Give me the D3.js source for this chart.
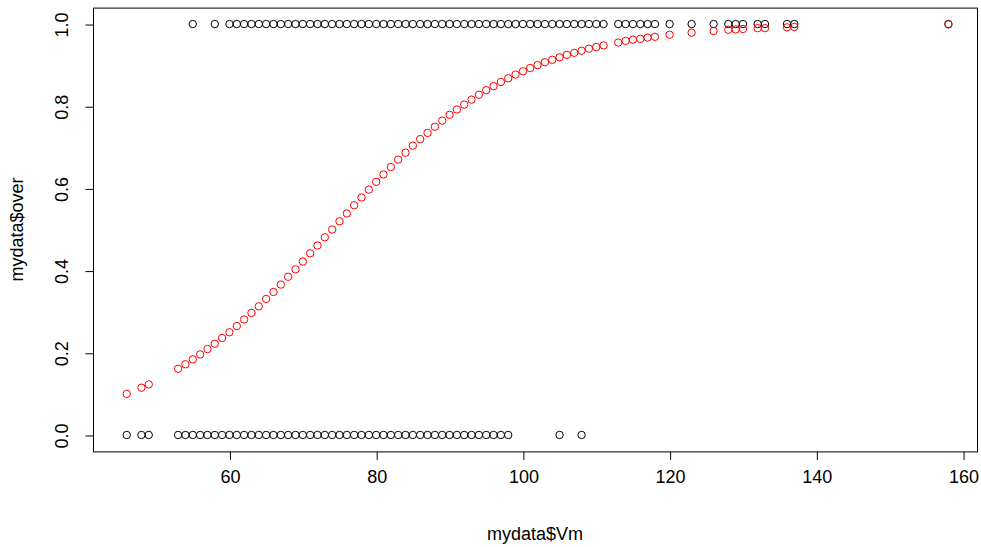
<!DOCTYPE html>
<html>
<head>
<meta charset="utf-8">
<script src="https://cdn.jsdelivr.net/npm/d3@7"></script>
<style>
  html, body { margin: 0; padding: 0; background: #fff; }
  svg { display: block; }
  text { font-family: "Liberation Sans", Arial, sans-serif; fill: #000; }
</style>
</head>
<body>
<svg id="chart" width="981" height="547"></svg>
<script>
// Observed Vm values where over == 1
const vmOver1 = [55, 58, 60, 61, 62, 63, 64, 65, 66, 67, 68, 69, 70, 71, 72, 73, 74, 75, 76, 77, 78, 79,
  80, 81, 82, 83, 84, 85, 86, 87, 88, 89, 90, 91, 92, 93, 94, 95, 96, 97, 98, 99, 100, 101, 102, 103,
  104, 105, 106, 107, 108, 109, 110, 111, 113, 114, 115, 116, 117, 118, 120, 123, 126, 128, 129, 130,
  132, 133, 136, 137, 158];
// Observed Vm values where over == 0
const vmOver0 = [46, 48, 49, 53, 54, 55, 56, 57, 58, 59, 60, 61, 62, 63, 64, 65, 66, 67, 68, 69, 70, 71,
  72, 73, 74, 75, 76, 77, 78, 79, 80, 81, 82, 83, 84, 85, 86, 87, 88, 89, 90, 91, 92, 93, 94, 95, 96,
  97, 98, 105, 108];
// Fitted probabilities (red points)
const fitVm = [46, 48, 49, 53, 54, 55, 56, 57, 58, 59, 60, 61, 62, 63, 64, 65, 66, 67, 68, 69, 70, 71,
  72, 73, 74, 75, 76, 77, 78, 79, 80, 81, 82, 83, 84, 85, 86, 87, 88, 89, 90, 91, 92, 93, 94, 95, 96,
  97, 98, 99, 100, 101, 102, 103, 104, 105, 106, 107, 108, 109, 110, 111, 113, 114, 115, 116, 117, 118,
  120, 123, 126, 128, 129, 130, 132, 133, 136, 137, 158];
const fitP = [0.100, 0.115, 0.123, 0.161, 0.172, 0.184, 0.196, 0.209, 0.222, 0.236, 0.250, 0.265, 0.281,
  0.297, 0.313, 0.331, 0.348, 0.366, 0.385, 0.403, 0.422, 0.442, 0.461, 0.481, 0.500, 0.520, 0.539,
  0.559, 0.578, 0.597, 0.616, 0.634, 0.652, 0.670, 0.687, 0.704, 0.720, 0.735, 0.750, 0.765, 0.779,
  0.792, 0.804, 0.816, 0.828, 0.839, 0.849, 0.859, 0.868, 0.877, 0.885, 0.893, 0.900, 0.907, 0.913,
  0.919, 0.925, 0.930, 0.935, 0.940, 0.944, 0.948, 0.955, 0.959, 0.962, 0.964, 0.967, 0.969, 0.974,
  0.979, 0.983, 0.986, 0.987, 0.988, 0.990, 0.990, 0.992, 0.993, 0.999];
const xTicks = [60, 80, 100, 120, 140, 160];
const yTicks = [0.0, 0.2, 0.4, 0.6, 0.8, 1.0];
const xLabel = "mydata$Vm";
const yLabel = "mydata$over";

const box = { left: 93, right: 977, top: 7.6, bottom: 451.4 };
const x = d3.scaleLinear().domain([41.4, 161.9]).range([box.left, box.right]);
const y = d3.scaleLinear().domain([-0.04, 1.04]).range([box.bottom, box.top]);

const svg = d3.select("#chart");
const fs = 18;
const ff = '"Liberation Sans", Arial, sans-serif';

// box
svg.append("rect")
  .attr("x", box.left + 0.5).attr("y", box.top + 0.5)
  .attr("width", box.right - box.left).attr("height", box.bottom - box.top)
  .attr("fill", "none").attr("stroke", "#000").attr("stroke-width", 1);

// x axis
const xAxis = d3.axisBottom(x).tickValues(xTicks).tickSize(8).tickPadding(10)
  .tickFormat(d3.format("d"));
const gx = svg.append("g").attr("transform", `translate(0.5,${box.bottom + 0.5})`).call(xAxis);
gx.select(".domain").remove();
gx.selectAll("line").attr("stroke", "#000");
gx.selectAll("text").style("font-size", fs + "px").style("font-family", ff);

// y axis
const yAxis = d3.axisLeft(y).tickValues(yTicks).tickSize(8).tickFormat(d3.format(".1f"));
const gy = svg.append("g").attr("transform", `translate(${box.left + 0.5},0.5)`).call(yAxis);
gy.select(".domain").remove();
gy.selectAll("line").attr("stroke", "#000");
gy.selectAll("text")
  .attr("x", null).attr("dy", null)
  .attr("text-anchor", "middle")
  .attr("transform", "translate(-26,0) rotate(-90)")
  .style("font-size", fs + "px").style("font-family", ff);

// axis titles
svg.append("text").attr("x", (box.left + box.right) / 2).attr("y", 540)
  .attr("text-anchor", "middle").style("font-size", fs + "px").text(xLabel);
svg.append("text")
  .attr("transform", `translate(23,${(box.top + box.bottom) / 2}) rotate(-90)`)
  .attr("text-anchor", "middle").style("font-size", fs + "px").text(yLabel);

const r = 3.7;
// observed points
svg.append("g").selectAll("circle").data(vmOver0).join("circle")
  .attr("cx", d => x(d)).attr("cy", y(0)).attr("r", r)
  .attr("fill", "none").attr("stroke", "#000").attr("stroke-width", 1);
svg.append("g").selectAll("circle").data(vmOver1).join("circle")
  .attr("cx", d => x(d)).attr("cy", y(1)).attr("r", r)
  .attr("fill", "none").attr("stroke", "#000").attr("stroke-width", 1);
// fitted points
svg.append("g").selectAll("circle").data(fitVm.map((v, i) => [v, fitP[i]])).join("circle")
  .attr("cx", d => x(d[0])).attr("cy", d => y(d[1])).attr("r", r)
  .attr("fill", "none").attr("stroke", "#ff0000").attr("stroke-width", 1);
</script>
</body>
</html>
